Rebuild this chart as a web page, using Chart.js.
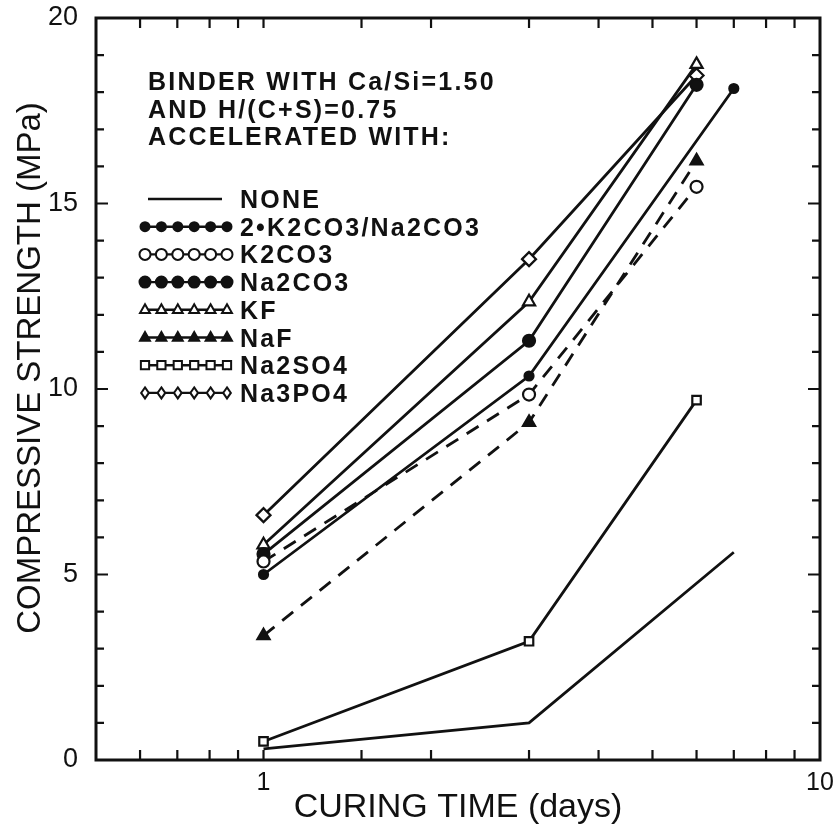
<!DOCTYPE html>
<html><head><meta charset="utf-8">
<script src="https://cdn.jsdelivr.net/npm/chart.js@4.4.1/dist/chart.umd.min.js"></script>
<style>html,body{margin:0;padding:0;background:#fff}#wrap{width:838px;height:825px}canvas{display:block}</style>
</head><body><div id="wrap"><canvas id="c" width="838" height="825"></canvas></div>
<script>
// ---- data ----
const seriesNames = ['NONE', '2\u2022K2CO3/Na2CO3', 'K2CO3', 'Na2CO3', 'KF', 'NaF', 'Na2SO4', 'Na3PO4'];
const daysNone   = [1, 3, 7];  const valsNone   = [0.3, 1.0, 5.6];
const daysMix    = [1, 3, 7];  const valsMix    = [5.0, 10.35, 18.1];
const daysK2CO3  = [1, 3, 6];  const valsK2CO3  = [5.35, 9.85, 15.45];
const daysNa2CO3 = [1, 3, 6];  const valsNa2CO3 = [5.55, 11.3, 18.2];
const daysKF     = [1, 3, 6];  const valsKF     = [5.8, 12.35, 18.75];
const daysNaF    = [1, 3, 6];  const valsNaF    = [3.35, 9.1, 16.15];
const daysNa2SO4 = [1, 3, 6];  const valsNa2SO4 = [0.5, 3.2, 9.7];
const daysNa3PO4 = [1, 3, 6];  const valsNa3PO4 = [6.6, 13.5, 18.45];
const xTickLabels = [1, 10];
const yTickLabels = [0, 5, 10, 15, 20];
const headerLines = ['BINDER WITH Ca/Si=1.50', 'AND H/(C+S)=0.75', 'ACCELERATED WITH:'];
const xTitle = 'CURING TIME (days)';
const yTitle = 'COMPRESSIVE STRENGTH (MPa)';

// ---- styles ----
const INK = '#111';
const seriesStyles = [
  {marker: null,       filled: false, r: 0, dash: []},
  {marker: 'circle',   filled: true,  r: 4.5, dash: []},
  {marker: 'circle',   filled: false, r: 6, dash: [14, 10]},
  {marker: 'circle',   filled: true,  r: 6, dash: []},
  {marker: 'triangle', filled: false, r: 7, dash: []},
  {marker: 'triangle', filled: true,  r: 7, dash: [14, 10]},
  {marker: 'rect',     filled: false, r: 6, dash: []},
  {marker: 'rectRot',  filled: false, r: 7, dash: []}
];
const seriesDays = [daysNone, daysMix, daysK2CO3, daysNa2CO3, daysKF, daysNaF, daysNa2SO4, daysNa3PO4];
const seriesVals = [valsNone, valsMix, valsK2CO3, valsNa2CO3, valsKF, valsNaF, valsNa2SO4, valsNa3PO4];

const datasets = seriesNames.map((name, i) => {
  const st = seriesStyles[i];
  return {
    label: name,
    data: seriesDays[i].map((d, k) => ({x: d, y: seriesVals[i][k]})),
    borderColor: INK,
    borderWidth: 2.8,
    borderDash: st.dash,
    pointStyle: st.marker || 'circle',
    pointRadius: st.marker ? st.r : 0,
    pointHoverRadius: st.marker ? st.r : 0,
    pointBorderWidth: 2.2,
    pointBorderColor: INK,
    pointBackgroundColor: st.filled ? INK : '#fff',
    fill: false,
    tension: 0
  };
});

function drawMarker(ctx, style, x, y, r, filled) {
  ctx.save();
  ctx.setLineDash([]);
  ctx.lineWidth = 2;
  ctx.strokeStyle = INK;
  ctx.fillStyle = filled ? INK : '#fff';
  ctx.beginPath();
  if (style === 'circle') {
    ctx.arc(x, y, r, 0, Math.PI * 2);
  } else if (style === 'triangle') {
    ctx.moveTo(x, y - r);
    ctx.lineTo(x + r * 0.9, y + r * 0.6);
    ctx.lineTo(x - r * 0.9, y + r * 0.6);
    ctx.closePath();
  } else if (style === 'rect') {
    ctx.rect(x - r * 0.75, y - r * 0.75, r * 1.5, r * 1.5);
  } else if (style === 'rectRot') {
    ctx.moveTo(x, y - r); ctx.lineTo(x + r * 0.7, y); ctx.lineTo(x, y + r); ctx.lineTo(x - r * 0.7, y); ctx.closePath();
  }
  ctx.fill();
  ctx.stroke();
  ctx.restore();
}

const decorPlugin = {
  id: 'decor',
  afterDatasetsDraw(chart) {
    const ctx = chart.ctx;
    const a = chart.chartArea;
    const xs = chart.scales.x, ys = chart.scales.y;
    ctx.save();
    ctx.strokeStyle = INK;
    ctx.lineWidth = 3;
    ctx.setLineDash([]);
    ctx.strokeRect(a.left, a.top, a.right - a.left, a.bottom - a.top);
    ctx.lineWidth = 2.2;
    ctx.beginPath();
    xs.ticks.forEach(t => {
      const px = xs.getPixelForValue(t.value);
      if (px <= a.left + 2 || px >= a.right - 2) return;
      ctx.moveTo(px, a.bottom); ctx.lineTo(px, a.bottom - 10);
      ctx.moveTo(px, a.top); ctx.lineTo(px, a.top + 10);
    });
    ys.ticks.forEach(t => {
      const py = ys.getPixelForValue(t.value);
      if (py <= a.top + 2 || py >= a.bottom - 2) return;
      const len = (t.value % 5 === 0) ? 12 : 8;
      ctx.moveTo(a.left, py); ctx.lineTo(a.left + len, py);
      ctx.moveTo(a.right, py); ctx.lineTo(a.right - len, py);
    });
    ctx.stroke();
    ctx.restore();
  },
  afterDraw(chart) {
    const ctx = chart.ctx;
    ctx.save();
    ctx.fillStyle = INK;
    // header text block
    ctx.font = 'bold 25px "Liberation Sans", Arial, sans-serif';
    ctx.textAlign = 'left';
    ctx.textBaseline = 'alphabetic';
    try { ctx.letterSpacing = '2.2px'; } catch (e) {}
    headerLines.forEach((line, i) => ctx.fillText(line, 148, 90 + i * 27.5));
    // legend
    const base0 = 208, step = 27.7;
    seriesNames.forEach((name, i) => {
      const st = seriesStyles[i];
      const by = base0 + i * step;
      const cy = by - 9;
      ctx.save();
      ctx.strokeStyle = INK;
      ctx.lineWidth = 2.4;
      ctx.setLineDash([]);
      ctx.beginPath();
      ctx.moveTo(st.marker ? 143 : 148, cy);
      ctx.lineTo(st.marker ? 228 : 222, cy);
      ctx.stroke();
      ctx.restore();
      if (st.marker) {
        for (let k = 0; k < 6; k++) {
          drawMarker(ctx, st.marker, 145 + k * 16.4, cy, Math.min(st.r, 5.5), st.filled);
        }
      }
      ctx.fillStyle = INK;
      ctx.fillText(name, 240, by);
    });
    // y axis title
    try { ctx.letterSpacing = '0px'; } catch (e) {}
    ctx.translate(31, 368);
    ctx.rotate(-Math.PI / 2);
    ctx.textAlign = 'center';
    ctx.textBaseline = 'middle';
    ctx.font = '33px "Liberation Sans", Arial, sans-serif';
    ctx.fillText(yTitle, 0, 0);
    ctx.restore();
  }
};

new Chart(document.getElementById('c'), {
  type: 'line',
  data: {datasets},
  options: {
    responsive: false,
    animation: false,
    devicePixelRatio: 1,
    layout: {padding: {top: 18, right: 18, left: 0, bottom: 0}},
    plugins: {legend: {display: false}, tooltip: {enabled: false}},
    scales: {
      x: {
        type: 'logarithmic',
        min: 0.5, max: 10,
        grid: {display: false},
        border: {display: false},
        afterFit(s) { s.height = 65; s.paddingLeft = 0; s.paddingRight = 0; },
        ticks: {
          autoSkip: false, maxRotation: 0, padding: 0,
          color: INK,
          font: {family: '"Liberation Sans", Arial, sans-serif', size: 25},
          callback(v) { return xTickLabels.includes(v) ? String(v) : ''; }
        },
        title: {
          display: true, text: xTitle, color: INK,
          font: {family: '"Liberation Sans", Arial, sans-serif', size: 34, lineHeight: 1},
          padding: {top: 0, bottom: 0}
        }
      },
      y: {
        type: 'linear',
        min: 0, max: 20,
        grid: {display: false},
        border: {display: false},
        afterFit(s) { s.width = 96; s.paddingTop = 0; s.paddingBottom = 0; },
        ticks: {
          stepSize: 1, autoSkip: false, padding: 10,
          color: INK,
          font: {family: '"Liberation Sans", Arial, sans-serif', size: 27},
          callback(v) { return yTickLabels.includes(v) ? String(v) : ''; }
        }
      }
    }
  },
  plugins: [decorPlugin]
});
</script>
</body></html>
